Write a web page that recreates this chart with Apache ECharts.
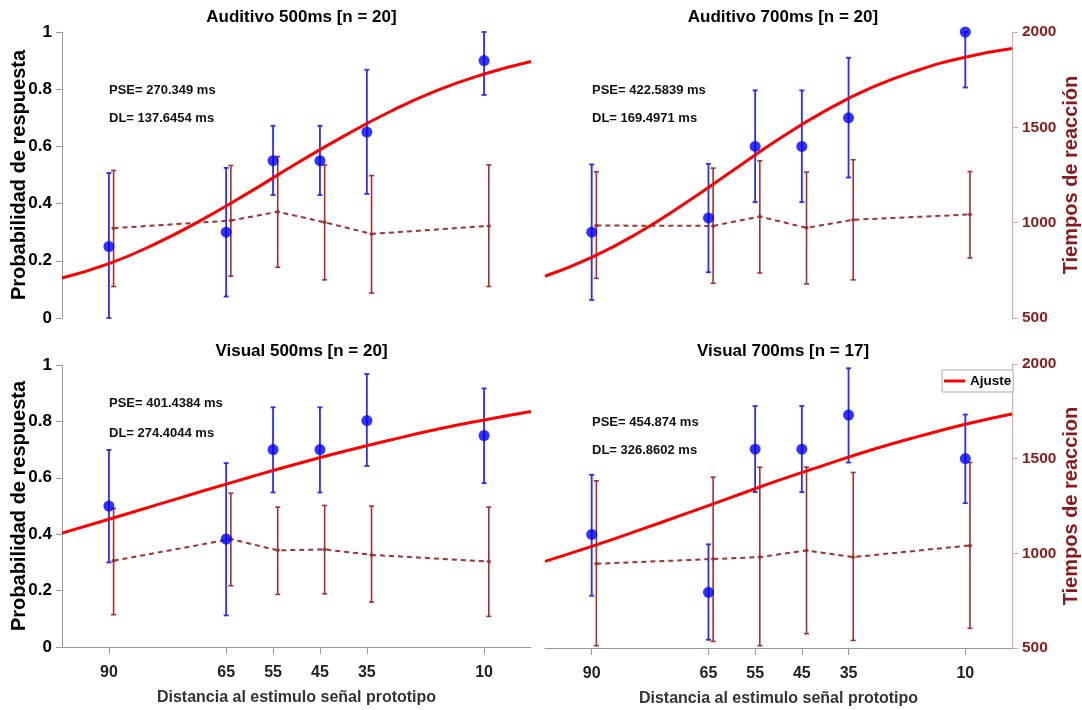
<!DOCTYPE html>
<html>
<head>
<meta charset="utf-8">
<script src="https://cdn.jsdelivr.net/npm/echarts@6/dist/echarts.min.js"></script>
<style>
html,body{margin:0;padding:0;background:#fff;}
#chart{width:1082px;height:710px;}
</style>
</head>
<body>
<div id="chart"></div>
<script>
// ---------- data ----------
const distances = [90, 65, 55, 45, 35, 10];
const rtOffset = 1; // RT markers drawn slightly right of the probability markers
const curveX = [100, 90, 80, 70, 60, 50, 40, 30, 20, 10, 0];

const titles = ['Auditivo 500ms [n = 20]', 'Auditivo 700ms [n = 20]', 'Visual 500ms [n = 20]', 'Visual 700ms [n = 17]'];
const pseLabels = ['PSE= 270.349 ms', 'PSE= 422.5839 ms', 'PSE= 401.4384 ms', 'PSE= 454.874 ms'];
const dlLabels = ['DL= 137.6454 ms', 'DL= 169.4971 ms', 'DL= 274.4044 ms', 'DL= 326.8602 ms'];

// Auditivo 500ms
const a500Prob = [0.25, 0.30, 0.55, 0.55, 0.65, 0.90];
const a500ProbLo = [0.00, 0.075, 0.43, 0.43, 0.434, 0.78];
const a500ProbHi = [0.507, 0.525, 0.672, 0.672, 0.868, 1.00];
const a500RT = [971, 1011, 1057, 1002, 941, 983];
const a500RTLo = [665, 719, 766, 700, 631, 665];
const a500RTHi = [1274, 1300, 1347, 1303, 1247, 1303];
const a500Fit = [0.14, 0.19, 0.26, 0.345, 0.44, 0.54, 0.635, 0.722, 0.796, 0.853, 0.897];

// Auditivo 700ms
const a700Prob = [0.30, 0.35, 0.60, 0.60, 0.70, 1.00];
const a700ProbLo = [0.063, 0.16, 0.405, 0.405, 0.491, 0.806];
const a700ProbHi = [0.537, 0.539, 0.796, 0.796, 0.91, 1.00];
const a700RT = [985, 983, 1032, 973, 1015, 1043];
const a700RTLo = [708, 682, 736, 679, 700, 815];
const a700RTHi = [1267, 1286, 1324, 1265, 1330, 1268];
const a700Fit = [0.146, 0.212, 0.298, 0.401, 0.513, 0.625, 0.724, 0.806, 0.867, 0.912, 0.942];

// Visual 500ms
const v500Prob = [0.50, 0.383, 0.70, 0.70, 0.803, 0.75];
const v500ProbLo = [0.30, 0.112, 0.548, 0.548, 0.642, 0.581];
const v500ProbHi = [0.699, 0.652, 0.85, 0.85, 0.968, 0.917];
const v500RT = [959, 1074, 1014, 1019, 990, 955];
const v500RTLo = [672, 826, 780, 783, 739, 663];
const v500RTHi = [1237, 1318, 1244, 1253, 1249, 1244];
const v500Fit = [0.404, 0.453, 0.503, 0.553, 0.602, 0.649, 0.693, 0.734, 0.772, 0.805, 0.835];

// Visual 700ms
const v700Prob = [0.40, 0.196, 0.70, 0.70, 0.82, 0.667];
const v700ProbLo = [0.184, 0.029, 0.549, 0.549, 0.653, 0.51];
const v700ProbHi = [0.61, 0.365, 0.852, 0.852, 0.985, 0.822];
const v700RT = [945, 970, 980, 1015, 980, 1042];
const v700RTLo = [512, 535, 512, 576, 540, 604];
const v700RTHi = [1383, 1402, 1455, 1455, 1427, 1480];
const v700Fit = [0.305, 0.358, 0.414, 0.472, 0.531, 0.590, 0.645, 0.698, 0.745, 0.788, 0.824];

const panels = [
  {prob: a500Prob, lo: a500ProbLo, hi: a500ProbHi, rt: a500RT, rtLo: a500RTLo, rtHi: a500RTHi, fit: a500Fit},
  {prob: a700Prob, lo: a700ProbLo, hi: a700ProbHi, rt: a700RT, rtLo: a700RTLo, rtHi: a700RTHi, fit: a700Fit},
  {prob: v500Prob, lo: v500ProbLo, hi: v500ProbHi, rt: v500RT, rtLo: v500RTLo, rtHi: v500RTHi, fit: v500Fit},
  {prob: v700Prob, lo: v700ProbLo, hi: v700ProbHi, rt: v700RT, rtLo: v700RTLo, rtHi: v700RTHi, fit: v700Fit}
];

// ---------- layout ----------
const FONT = '"Liberation Sans", Arial, sans-serif';
const grids = [
  {left: 62, top: 32, width: 469, height: 286},
  {left: 545, top: 32, width: 470, height: 286},
  {left: 62, top: 365, width: 469, height: 282},
  {left: 545, top: 364, width: 470, height: 284}
];
const BLUE = '#0000ff';
const BLUE_BAR = '#2b2bff';
const BROWN = '#a2302c';
const RED = '#ff0000';

function errorBar(name, xi, yi, data, color, cap, width, z) {
  return {
    name: name, type: 'custom', xAxisIndex: xi, yAxisIndex: yi, z: z,
    silent: true,
    encode: {x: 0, y: [1, 2]},
    data: data,
    renderItem: function (params, api) {
      const x = api.value(0), lo = api.value(1), hi = api.value(2);
      const a = api.coord([x, lo]);
      const b = api.coord([x, hi]);
      const st = {stroke: color, lineWidth: width};
      return {type: 'group', children: [
        {type: 'line', shape: {x1: a[0], y1: a[1], x2: b[0], y2: b[1]}, style: st},
        {type: 'line', shape: {x1: a[0] - cap, y1: a[1], x2: a[0] + cap, y2: a[1]}, style: st},
        {type: 'line', shape: {x1: b[0] - cap, y1: b[1], x2: b[0] + cap, y2: b[1]}, style: st}
      ]};
    }
  };
}

const xAxes = [], yAxes = [], series = [], titleArr = [], graphics = [];
const pseY = [[90, 118], [90, 118], [403, 433], [422, 450]];
const pseX = [109, 592, 109, 592];
const plain = v => String(v);

for (let g = 0; g < 4; g++) {
  const bottom = g >= 2;
  const leftSide = g % 2 === 0;
  xAxes.push({
    type: 'value', gridIndex: g, min: 0, max: 100, inverse: true,
    show: bottom,
    name: bottom ? 'Distancia al estimulo señal prototipo' : '',
    nameLocation: 'middle', nameGap: 43, nameMoveOverlap: false,
    nameTextStyle: {fontFamily: FONT, fontWeight: 'bold', fontSize: 16, color: '#333'},
    axisLine: {show: bottom, onZero: false, lineStyle: {color: '#999', width: 1}},
    axisTick: {show: bottom, customValues: distances, length: 7, lineStyle: {color: '#999'}},
    axisLabel: {show: bottom, customValues: distances, margin: 18, fontFamily: FONT, fontWeight: 'bold', fontSize: 16, color: '#222', formatter: plain},
    splitLine: {show: false}, minorTick: {show: false}
  });
  yAxes.push({
    type: 'value', gridIndex: g, min: 0, max: 1, interval: 0.2, position: 'left',
    show: leftSide,
    name: leftSide ? 'Probabilidad de respuesta' : '', nameLocation: 'middle', nameGap: 33, nameMoveOverlap: false,
    nameTextStyle: {fontFamily: FONT, fontWeight: 'bold', fontSize: 20, color: '#000'},
    axisLine: {show: leftSide, onZero: false, lineStyle: {color: '#999', width: 1}},
    axisTick: {show: leftSide, length: 6, lineStyle: {color: '#999'}},
    axisLabel: {show: leftSide, fontFamily: FONT, fontWeight: 'bold', fontSize: 17, color: '#000', margin: 10, formatter: plain},
    splitLine: {show: false}, minorTick: {show: false}
  });
  yAxes.push({
    type: 'value', gridIndex: g, min: 500, max: 2000, interval: 500, position: 'right',
    show: !leftSide,
    name: leftSide ? '' : (g === 1 ? 'Tiempos de reacción' : 'Tiempos de reaccion'),
    nameLocation: 'middle', nameGap: 49, nameRotate: 90, nameMoveOverlap: false,
    nameTextStyle: {fontFamily: FONT, fontWeight: 'bold', fontSize: 20, color: '#8b1a1a'},
    axisLine: {show: !leftSide, onZero: false, lineStyle: {color: '#dba4a4', width: 1}},
    axisTick: {show: !leftSide, length: 6, lineStyle: {color: '#dba4a4'}},
    axisLabel: {show: !leftSide, fontFamily: FONT, fontWeight: 'bold', fontSize: 15.5, color: '#8b1a1a', margin: 10, formatter: plain},
    splitLine: {show: false}, minorTick: {show: false}
  });

  const p = panels[g];
  const yP = 2 * g, yR = 2 * g + 1;
  // RT error bars + dashed line
  series.push(errorBar('rtErr' + g, g, yR, distances.map((d, i) => [d - rtOffset, p.rtLo[i], p.rtHi[i]]), BROWN, 2.5, 1.6, 2));
  series.push({
    name: 'rt' + g, type: 'line', xAxisIndex: g, yAxisIndex: yR, z: 3, silent: true,
    data: distances.map((d, i) => [d - rtOffset, p.rt[i]]),
    symbol: 'diamond', symbolSize: 5, showSymbol: true,
    itemStyle: {color: BROWN},
    lineStyle: {color: BROWN, width: 2, type: [5, 4]},
    animation: false
  });
  // probability error bars
  series.push(errorBar('pErr' + g, g, yP, distances.map((d, i) => [d, p.lo[i], p.hi[i]]), BLUE_BAR, 2.5, 1.8, 4));
  // fit curve
  series.push({
    name: 'Ajuste', type: 'line', xAxisIndex: g, yAxisIndex: yP, z: 5, silent: true,
    data: curveX.map((d, i) => [d, p.fit[i]]),
    smooth: true, symbol: 'none',
    lineStyle: {color: RED, width: 3}, itemStyle: {color: RED},
    animation: false
  });
  // probability points
  series.push({
    name: 'prob' + g, type: 'scatter', xAxisIndex: g, yAxisIndex: yP, z: 6, silent: true,
    data: distances.map((d, i) => [d, p.prob[i]]),
    symbol: 'circle', symbolSize: 11,
    itemStyle: {color: BLUE},
    animation: false
  });

  titleArr.push({
    text: titles[g],
    left: grids[g].left + grids[g].width / 2 + (leftSide ? 0 : -2),
    top: bottom ? 338 : 4,
    textAlign: 'center',
    textStyle: {fontFamily: FONT, fontWeight: 'bold', fontSize: 17, color: '#000'}
  });
  graphics.push({type: 'text', left: pseX[g], top: pseY[g][0] - 6,
    style: {text: pseLabels[g], font: 'bold 13px ' + FONT, fill: '#111'}});
  graphics.push({type: 'text', left: pseX[g], top: pseY[g][1] - 6,
    style: {text: dlLabels[g], font: 'bold 13px ' + FONT, fill: '#111'}});
}

const chart = echarts.init(document.getElementById('chart'), null, {renderer: 'canvas'});
chart.setOption({
  backgroundColor: '#fff',
  animation: false,
  title: titleArr,
  grid: grids,
  xAxis: xAxes,
  yAxis: yAxes,
  legend: {
    data: [{name: 'Ajuste', icon: 'rect'}], left: 942, top: 370,
    orient: 'vertical',
    backgroundColor: '#fff', borderColor: '#aaa', borderWidth: 1, borderRadius: 0,
    padding: [4, 2, 4, 2], itemWidth: 21, itemHeight: 3, itemGap: 0,
    textStyle: {fontFamily: FONT, fontWeight: 'bold', fontSize: 13.5, color: '#000'}
  },
  graphic: graphics,
  series: series
});
</script>
</body>
</html>
